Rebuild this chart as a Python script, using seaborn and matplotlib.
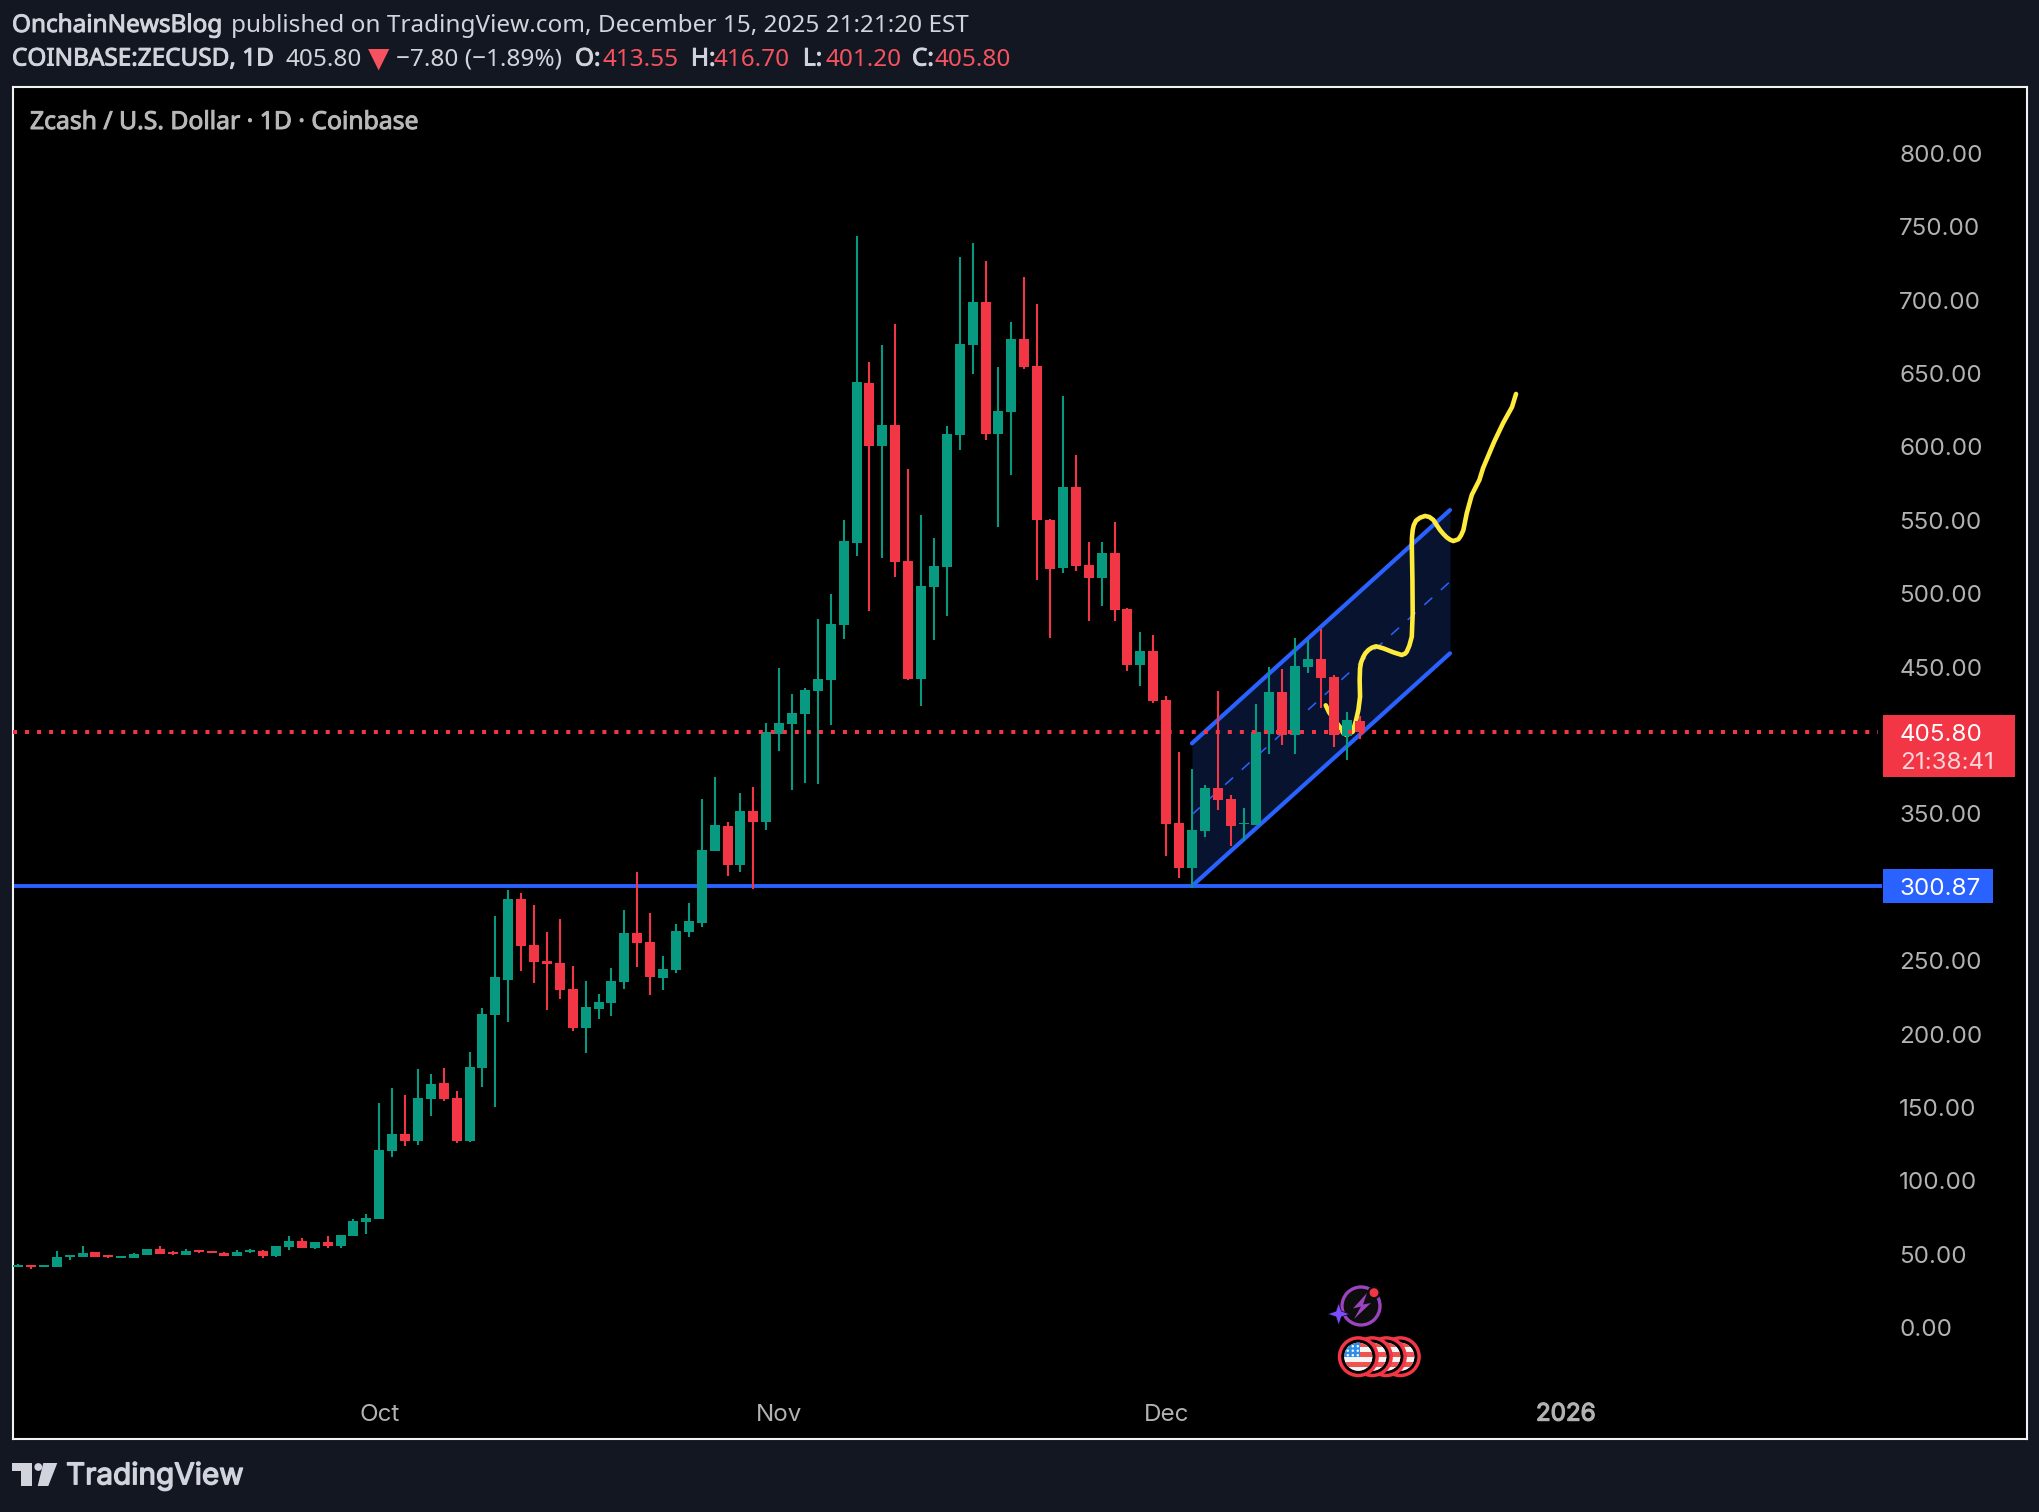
# ZEC/USD daily candles, TradingView snapshot look
import matplotlib
matplotlib.use("Agg")
import matplotlib.pyplot as plt
import matplotlib.patheffects as pe
from matplotlib.patches import Circle, FancyBboxPatch, Polygon, Rectangle
from matplotlib.transforms import Affine2D
import pandas as pd
import seaborn as sns

# Data
opens = [41.4, 42.7, 41.4, 41.4, 48.2, 48.2, 51.6, 49.5, 47.5, 47.5,
         49.5, 53.6, 51.8, 49.5, 52.9, 52.3, 50.9, 48.8, 51.6, 52.3,
         48.8, 55.0, 59.1, 54.3, 58.4, 55.7, 62.5, 72.0, 74.0, 120.3,
         131.9, 127.1, 155.8, 166.7, 156.4, 127.1, 176.9, 213.0, 236.8, 292.0,
         260.7, 249.8, 248.4, 230.7, 204.1, 217.1, 221.2, 235.5, 268.9, 262.7,
         238.2, 243.6, 269.5, 275.4, 324.7, 341.6, 315.2, 352.0, 344.5, 404.5,
         411.0, 417.9, 433.5, 441.0, 478.5, 534.5, 643.4, 600.7, 615.0, 522.1,
         442.0, 504.5, 518.2, 608.2, 669.5, 698.8, 608.8, 623.8, 673.4, 655.1,
         550.2, 517.6, 572.7, 519.5, 510.7, 527.7, 489.6, 451.4, 460.9, 427.6,
         343.8, 313.1, 338.3, 367.6, 360.1, 342.9, 342.4, 404.4, 433.0, 403.8,
         450.1, 455.5, 443.3, 403.1, 413.55]
highs = [43.4, 42.7, 42.7, 52.3, 49.5, 55.7, 51.6, 49.5, 48.8, 50.9,
         53.6, 55.7, 52.3, 53.6, 52.9, 52.3, 51.6, 52.9, 53.6, 52.9,
         55.7, 62.5, 61.1, 58.4, 62.5, 63.2, 74.1, 77.5, 153.0, 163.3,
         158.5, 176.2, 172.8, 176.9, 161.2, 187.8, 217.8, 280.4, 298.1, 296.1,
         287.9, 269.5, 278.4, 246.4, 236.2, 227.3, 245.0, 284.5, 310.4, 282.5,
         253.2, 275.0, 289.3, 360.2, 375.2, 344.5, 364.1, 368.3, 412.0, 449.5,
         431.5, 435.8, 482.7, 499.7, 550.2, 743.8, 657.7, 669.4, 683.8, 585.0,
         553.4, 537.8, 614.4, 729.4, 738.9, 726.5, 654.5, 685.1, 715.7, 697.5,
         550.8, 634.6, 594.5, 535.2, 535.2, 548.9, 490.2, 473.9, 472.0, 430.3,
         392.2, 380.6, 369.7, 433.7, 362.9, 354.0, 424.9, 450.1, 448.7, 469.8,
         468.5, 476.0, 444.6, 419.4, 416.70]
lows = [41.4, 40.0, 41.4, 41.4, 46.1, 48.2, 48.2, 47.5, 47.5, 47.5,
        49.5, 50.2, 49.5, 49.5, 50.9, 50.9, 48.8, 48.8, 50.9, 47.5,
        48.2, 52.9, 54.3, 53.6, 54.3, 54.3, 62.5, 63.8, 74.0, 116.2,
        123.7, 124.4, 144.2, 154.4, 125.8, 126.5, 163.9, 150.3, 208.2, 243.0,
        234.8, 216.4, 223.9, 202.1, 187.1, 210.3, 212.3, 230.7, 245.7, 226.6,
        230.0, 241.6, 266.1, 272.8, 324.7, 307.7, 310.3, 298.9, 339.0, 392.8,
        366.4, 370.9, 370.3, 410.4, 469.0, 525.7, 488.3, 524.4, 511.4, 441.0,
        423.4, 468.4, 484.7, 597.8, 649.6, 604.6, 545.3, 580.8, 653.2, 509.4,
        469.7, 514.0, 515.3, 481.4, 491.5, 481.4, 447.2, 437.1, 425.4, 321.3,
        306.3, 299.3, 334.3, 352.6, 328.1, 331.5, 342.4, 390.8, 397.0, 390.8,
        446.0, 422.1, 395.6, 386.7, 401.20]
closes = [42.7, 41.4, 42.7, 48.2, 49.5, 50.9, 48.2, 48.2, 48.8, 50.2,
          53.6, 50.2, 50.2, 52.3, 51.6, 50.9, 48.8, 51.6, 52.9, 48.8,
          55.7, 59.1, 54.3, 58.4, 55.7, 63.2, 72.7, 74.7, 121.0, 131.9,
          127.1, 156.4, 166.0, 155.8, 127.1, 177.6, 213.7, 238.9, 292.0, 260.0,
          249.1, 247.7, 230.0, 204.1, 218.4, 221.8, 236.2, 268.9, 262.0, 238.9,
          244.3, 270.2, 277.0, 325.3, 342.3, 315.2, 352.0, 344.5, 405.8, 412.0,
          418.5, 434.5, 442.0, 479.5, 535.8, 644.0, 600.7, 615.0, 521.5, 442.0,
          505.2, 518.9, 608.8, 670.1, 698.8, 608.8, 624.5, 673.4, 654.5, 550.2,
          516.9, 572.7, 518.9, 510.7, 527.7, 488.9, 451.4, 460.9, 427.0, 343.1,
          313.1, 339.0, 367.6, 359.5, 341.8, 343.8, 405.8, 433.0, 403.8, 450.8,
          455.5, 442.6, 403.8, 414.0, 405.80]

price_ticks = [800, 750, 700, 650, 600, 550, 500, 450, 350, 250, 200, 150, 100, 50, 0]
month_dates = ["2025-10-01", "2025-11-01", "2025-12-01", "2026-01-01"]
month_labels = ["Oct", "Nov", "Dec", "2026"]

last_price = 405.80
support = 300.87

# drawing: channel ends (bar index, price), then the hand drawn yellow path
channel_x = [91, 111]
channel_upper = [398.1, 557.0]
channel_lower = [300.87, 459.4]
channel_mid = [349.5, 508.2]

path_x = [101.37, 101.63, 102.48, 102.74, 103.0, 103.46, 103.69, 103.9, 104.03, 104.0,
          104.03, 104.11, 104.29, 104.44, 104.68, 104.96, 105.27, 105.84, 106.61, 107.26,
          107.52, 107.65, 107.85, 108.04, 108.11, 108.09, 108.04, 108.06, 108.11, 108.19,
          108.37, 108.68, 109.07, 109.40, 109.71, 109.97, 110.23, 110.49, 110.75, 111.01,
          111.26, 111.65, 111.86, 112.04, 112.30, 112.69, 113.28, 113.57, 114.42, 115.12,
          115.81, 116.12]
path_y = [424.0, 419.2, 409.0, 404.9, 403.8, 406.0, 412.8, 420.8, 429.9, 441.2,
          449.2, 453.3, 457.1, 459.4, 461.7, 463.3, 464.2, 462.8, 460.1, 458.3,
          459.2, 460.5, 464.6, 470.8, 486.7, 509.4, 534.4, 538.9, 543.4, 546.6,
          549.8, 551.8, 553.0, 552.3, 550.3, 546.8, 543.4, 540.7, 538.4, 536.8,
          535.9, 537.1, 539.8, 543.4, 554.8, 567.3, 577.5, 585.7, 603.4, 616.3,
          627.2, 636.1]

UP = "#089981"
DOWN = "#f23645"
BLUE = "#2962ff"
BG = "#131722"
HEAD = "#d1d4dc"
HEAD_RED = "#f7525f"
AXIS_TXT = "#b2b2b2"
INTER = ["Inter", "DejaVu Sans"]

sns.set_theme(style="dark", rc={"lines.scale_dashes": False})
plt.rcParams["font.family"] = ["Noto Sans", "DejaVu Sans"]

df = pd.DataFrame({"date": pd.date_range("2025-09-03", periods=len(opens)),
                   "open": opens, "high": highs, "low": lows, "close": closes})
df["bar"] = range(len(df))
df["color"] = [UP if c >= o else DOWN for o, c in zip(df.open, df.close)]

W, H = 2040, 1512
fig = plt.figure(figsize=(W / 100, H / 100), dpi=100, facecolor=BG)
ax = fig.add_axes([13 / W, 1 - 1439 / H, 2014 / W, 1352 / H], facecolor="black")
ax.set_xlim(-0.39, 155.73)
ax.set_ylim(-75.8, 845.2)
px = Affine2D().scale(1 / W, -1 / H).translate(0, 1) + fig.transFigure

for s in ax.spines.values():
    s.set_color("#f2f2f2")
    s.set_linewidth(1.5)

# heavier text, the installed families only come in one weight
def heavy(t, color, width=0.7):
    t.set_path_effects([pe.withStroke(linewidth=width, foreground=color)])

# channel and support, all behind the candles
ax.fill_between(channel_x, channel_lower, channel_upper, color="#08142f", linewidth=0, zorder=1)
for ys in (channel_upper, channel_lower):
    sns.lineplot(x=channel_x, y=ys, color=BLUE, linewidth=3.0, ax=ax, zorder=1.5)
ax.plot(channel_x, channel_mid, color=BLUE, linewidth=1.1, dashes=(7.7, 8.4), zorder=1.5)
ax.plot([-0.39, 144.5], [support, support], color=BLUE, linewidth=2.8, solid_capstyle="butt", zorder=1.5)
sns.lineplot(x=path_x, y=path_y, sort=False, estimator=None, color="#ffeb3b",
             linewidth=3.3, ax=ax, zorder=2)

# candles
ax.vlines(df.bar, df.low, df.high, colors=df.color, linewidth=1.5, zorder=3)
ax.bar(df.bar, (df.close - df.open).abs(), bottom=df[["open", "close"]].min(axis=1),
       width=0.775, color=df.color, linewidth=0, zorder=3)

ax.plot([-0.39, 144.2], [last_price, last_price], color=DOWN, linewidth=2.9,
        linestyle=(0, (2.9, 5.76)), dash_capstyle="butt", zorder=4)

# price scale sits inside the frame, like the snapshot
ax.yaxis.tick_right()
ax.set_yticks(price_ticks, [f"{v:.2f}" for v in price_ticks])
ax.tick_params(axis="y", length=0, pad=-92, labelcolor=AXIS_TXT, labelsize=17.4)
month_bars = [(pd.Timestamp(d) - df.date[0]).days for d in month_dates]
ax.set_xticks(month_bars, month_labels)
ax.tick_params(axis="x", length=0, pad=-25.5, labelcolor=AXIS_TXT, labelsize=17.4)
for lab in ax.get_yticklabels() + ax.get_xticklabels():
    lab.set_family(INTER)
heavy(ax.get_xticklabels()[-1], AXIS_TXT, 0.9)
ax.set_xlabel("")
ax.set_ylabel("")
ax.grid(False)

# price labels
scale = ax.get_yaxis_transform()
def xf(p):
    return (p - 13) / 2014

def tag(x0, x1, y0, y1, color):
    ax.add_patch(FancyBboxPatch((x0, y0), x1 - x0, y1 - y0, boxstyle="square,pad=0",
                                transform=scale, facecolor=color, edgecolor="none", zorder=5))

tag(xf(1883), xf(2015), last_price - 30.6, last_price + 11.4, DOWN)
tag(xf(1883), xf(1993), support - 11.5, support + 11.5, BLUE)
for txt, y, col in [("405.80", last_price, "white"), ("21:38:41", last_price - 19.3, "#fcd5d9"),
                    ("300.87", support, "white")]:
    ax.text(xf(1900), y, txt, transform=scale, color=col, fontsize=17.4, va="center_baseline",
            family=INTER, zorder=6)

t = ax.text(30, 122.5, "Zcash / U.S. Dollar · 1D · Coinbase", transform=px, color="#b8b8b8",
            fontsize=17.8, va="center", zorder=6)
heavy(t, "#b8b8b8")

# header lines
def head(x, y, txt, color=HEAD, bold=False, size=17.5):
    t = fig.text(x / W, 1 - y / H, txt, color=color, fontsize=size, va="center", ha="left")
    if bold:
        heavy(t, color)

head(12, 26, "OnchainNewsBlog", bold=True)
head(231, 26, "published on TradingView.com, December 15, 2025 21:21:20 EST")
head(12, 59.5, "COINBASE:ZECUSD, 1D", bold=True)
head(286, 59.5, "405.80")
fig.text(379 / W, 1 - 59 / H, "▼", color=HEAD_RED, fontsize=20, ha="center", va="center",
         family="DejaVu Sans")
head(396, 59.5, "−7.80 (−1.89%)")
for lx, label, vx, val in [(575, "O:", 603, "413.55"), (691, "H:", 714, "416.70"),
                           (803, "L:", 826, "401.20"), (912, "C:", 935, "405.80")]:
    head(lx, 59.5, label, bold=True)
    head(vx, 59.5, val, color=HEAD_RED)

# footer logo
fig.add_artist(Polygon([(12, 1463), (32, 1463), (32, 1486), (21, 1486), (21, 1471), (12, 1471)],
                       transform=px, facecolor=HEAD, edgecolor="none"))
fig.add_artist(Circle((38.3, 1467), 3.9, transform=px, facecolor=HEAD, edgecolor="none"))
fig.add_artist(Polygon([(43.3, 1463), (57.3, 1463), (48.3, 1486), (37.7, 1486)],
                       transform=px, facecolor=HEAD, edgecolor="none"))
t = fig.text(66 / W, 1 - 1476 / H, "TradingView", color=HEAD, fontsize=21.4,
             va="center", family=INTER)
heavy(t, HEAD, 1.0)

# event icons under the last bars
def icon(p):
    p.set_transform(px)
    p.set_zorder(7)
    fig.add_artist(p)
    return p

icon(Circle((1361, 1306), 19, facecolor="#0d0d0d", edgecolor="#9c44c0", linewidth=2.4))
icon(Polygon([(1367, 1293), (1353, 1308.5), (1361, 1306.5), (1354, 1319),
              (1371, 1303), (1363, 1304.5)], facecolor="#9c44c0", edgecolor="none"))
icon(Circle((1374, 1292.7), 5.5, facecolor=DOWN, edgecolor="#0d0d0d", linewidth=1.5))
icon(Polygon([(1338.7, 1303), (1341.5, 1311.2), (1349.7, 1314), (1341.5, 1316.8),
              (1338.7, 1325), (1335.9, 1316.8), (1327.7, 1314), (1335.9, 1311.2)],
             facecolor="#7c4dff", edgecolor="#0d0d0d", linewidth=0.5))

def flag(cx, cy, z):
    a = Circle((cx, cy), 18.8, facecolor="black", edgecolor=DOWN, linewidth=2.5, transform=px, zorder=z)
    fig.add_artist(a)
    disc = Circle((cx, cy), 14, facecolor="#f5f5f5", edgecolor="none", transform=px, zorder=z)
    fig.add_artist(disc)
    parts = []
    for k, c in enumerate(["#ef5350", "#f5f5f5", "#ef5350", "#f5f5f5", "#ef5350", "#f5f5f5"]):
        parts.append(Rectangle((cx - 15, cy - 15 + k * 5), 30, 5, facecolor=c, edgecolor="none"))
    parts.append(Rectangle((cx - 15, cy - 15), 17, 15, facecolor="#2f8fe8", edgecolor="none"))
    for r in range(3):
        for c in range(3):
            parts.append(Circle((cx - 10.5 + c * 5, cy - 10.5 + r * 4.5), 1.2,
                                facecolor="white", edgecolor="none"))
    for p in parts:
        p.set_transform(px)
        p.set_zorder(z)
        fig.add_artist(p)
        p.set_clip_path(disc)

for n, off in enumerate([42, 28, 14, 0]):
    flag(1358.3 + off, 1356.7, 8 + n)

fig.savefig("out.png", dpi=100, facecolor=BG)
